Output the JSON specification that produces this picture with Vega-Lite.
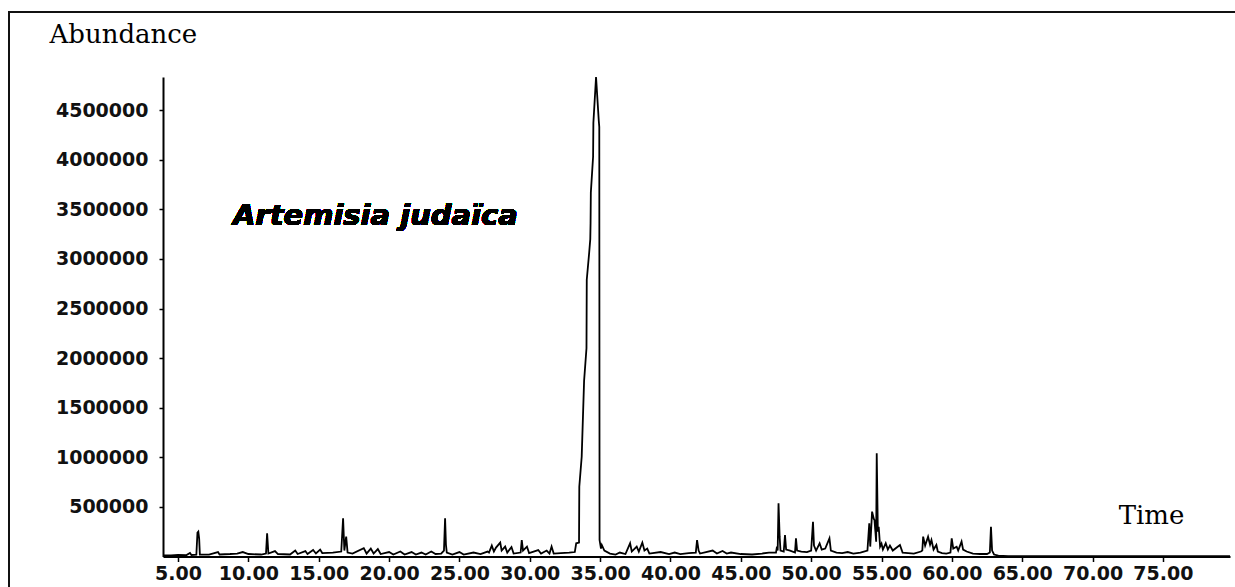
{
  "$schema": "https://vega.github.io/schema/vega-lite/v6.json",
  "autosize": {"type": "none"},
  "padding": {"left": 9, "top": 12, "right": 0, "bottom": 0},
  "width": 1228,
  "height": 577,
  "background": "white",
  "config": {"view": {"stroke": "#111", "strokeWidth": 2, "fill": null}},
  "data": {"values": [
    {"t": 3.93, "A": 10000}, {"t": 4.5, "A": 12000}, {"t": 5.0, "A": 15000}, {"t": 5.6, "A": 14000},
    {"t": 5.85, "A": 35000}, {"t": 5.95, "A": 15000}, {"t": 6.3, "A": 18000}, {"t": 6.38, "A": 240000},
    {"t": 6.44, "A": 250000}, {"t": 6.5, "A": 180000}, {"t": 6.55, "A": 20000}, {"t": 7.2, "A": 18000},
    {"t": 7.84, "A": 45000}, {"t": 7.95, "A": 20000}, {"t": 8.7, "A": 25000}, {"t": 9.2, "A": 30000},
    {"t": 9.6, "A": 45000}, {"t": 10.0, "A": 25000}, {"t": 10.9, "A": 20000}, {"t": 11.25, "A": 30000},
    {"t": 11.33, "A": 234000}, {"t": 11.42, "A": 30000}, {"t": 11.89, "A": 55000}, {"t": 12.1, "A": 25000},
    {"t": 12.96, "A": 20000}, {"t": 13.33, "A": 60000}, {"t": 13.5, "A": 25000}, {"t": 14.05, "A": 55000},
    {"t": 14.2, "A": 25000}, {"t": 14.6, "A": 65000}, {"t": 14.8, "A": 30000}, {"t": 15.1, "A": 70000},
    {"t": 15.25, "A": 35000}, {"t": 16.0, "A": 40000}, {"t": 16.6, "A": 50000}, {"t": 16.73, "A": 385000},
    {"t": 16.82, "A": 60000}, {"t": 16.95, "A": 200000}, {"t": 17.05, "A": 40000}, {"t": 17.4, "A": 30000},
    {"t": 18.2, "A": 85000}, {"t": 18.4, "A": 30000}, {"t": 18.7, "A": 80000}, {"t": 18.9, "A": 30000},
    {"t": 19.2, "A": 75000}, {"t": 19.4, "A": 25000}, {"t": 20.0, "A": 45000}, {"t": 20.3, "A": 20000},
    {"t": 20.8, "A": 50000}, {"t": 21.1, "A": 20000}, {"t": 21.6, "A": 45000}, {"t": 21.9, "A": 20000},
    {"t": 22.3, "A": 40000}, {"t": 22.6, "A": 20000}, {"t": 23.0, "A": 50000}, {"t": 23.3, "A": 25000},
    {"t": 23.7, "A": 30000}, {"t": 23.9, "A": 60000}, {"t": 23.98, "A": 385000}, {"t": 24.04, "A": 120000},
    {"t": 24.1, "A": 40000}, {"t": 24.5, "A": 20000}, {"t": 25.0, "A": 45000}, {"t": 25.3, "A": 20000},
    {"t": 26.0, "A": 40000}, {"t": 26.5, "A": 25000}, {"t": 27.0, "A": 50000}, {"t": 27.1, "A": 40000},
    {"t": 27.3, "A": 110000}, {"t": 27.45, "A": 50000}, {"t": 27.6, "A": 90000}, {"t": 27.9, "A": 140000},
    {"t": 28.0, "A": 60000}, {"t": 28.25, "A": 100000}, {"t": 28.4, "A": 40000}, {"t": 28.7, "A": 95000},
    {"t": 28.85, "A": 30000}, {"t": 29.35, "A": 40000}, {"t": 29.43, "A": 166000}, {"t": 29.52, "A": 60000},
    {"t": 29.8, "A": 100000}, {"t": 29.95, "A": 35000}, {"t": 30.6, "A": 65000}, {"t": 30.8, "A": 30000},
    {"t": 31.2, "A": 60000}, {"t": 31.4, "A": 30000}, {"t": 31.55, "A": 100000}, {"t": 31.7, "A": 30000},
    {"t": 32.2, "A": 35000}, {"t": 32.8, "A": 40000}, {"t": 33.2, "A": 45000}, {"t": 33.3, "A": 133000},
    {"t": 33.5, "A": 140000}, {"t": 33.52, "A": 704000}, {"t": 33.69, "A": 1006000}, {"t": 33.86, "A": 1770000},
    {"t": 34.03, "A": 2100000}, {"t": 34.05, "A": 2790000}, {"t": 34.22, "A": 3060000}, {"t": 34.3, "A": 3200000},
    {"t": 34.32, "A": 3360000}, {"t": 34.34, "A": 3670000}, {"t": 34.5, "A": 4030000}, {"t": 34.52, "A": 4370000},
    {"t": 34.71, "A": 4834000}, {"t": 34.9, "A": 4400000}, {"t": 34.94, "A": 4330000}, {"t": 34.96, "A": 166000},
    {"t": 35.06, "A": 80000}, {"t": 35.12, "A": 116000}, {"t": 35.3, "A": 60000}, {"t": 35.7, "A": 30000},
    {"t": 36.1, "A": 20000}, {"t": 36.4, "A": 40000}, {"t": 36.8, "A": 25000}, {"t": 37.13, "A": 133000},
    {"t": 37.25, "A": 50000}, {"t": 37.6, "A": 100000}, {"t": 37.75, "A": 50000}, {"t": 38.0, "A": 140000},
    {"t": 38.15, "A": 60000}, {"t": 38.35, "A": 80000}, {"t": 38.5, "A": 30000}, {"t": 39.3, "A": 45000},
    {"t": 39.9, "A": 25000}, {"t": 40.3, "A": 40000}, {"t": 40.7, "A": 25000}, {"t": 41.3, "A": 35000},
    {"t": 41.8, "A": 40000}, {"t": 41.89, "A": 166000}, {"t": 42.0, "A": 60000}, {"t": 42.1, "A": 30000},
    {"t": 43.0, "A": 60000}, {"t": 43.3, "A": 30000}, {"t": 43.7, "A": 55000}, {"t": 44.0, "A": 30000},
    {"t": 44.3, "A": 40000}, {"t": 45.0, "A": 25000}, {"t": 45.8, "A": 20000}, {"t": 46.5, "A": 30000},
    {"t": 47.0, "A": 40000}, {"t": 47.5, "A": 40000}, {"t": 47.57, "A": 100000}, {"t": 47.62, "A": 60000},
    {"t": 47.68, "A": 536000}, {"t": 47.76, "A": 200000}, {"t": 47.82, "A": 60000}, {"t": 48.05, "A": 50000},
    {"t": 48.14, "A": 217000}, {"t": 48.22, "A": 70000}, {"t": 48.5, "A": 60000}, {"t": 48.85, "A": 40000},
    {"t": 48.92, "A": 183000}, {"t": 49.0, "A": 60000}, {"t": 49.3, "A": 50000}, {"t": 49.7, "A": 45000},
    {"t": 50.0, "A": 60000}, {"t": 50.13, "A": 351000}, {"t": 50.2, "A": 110000}, {"t": 50.35, "A": 60000},
    {"t": 50.6, "A": 133000}, {"t": 50.75, "A": 70000}, {"t": 51.0, "A": 80000}, {"t": 51.3, "A": 183000},
    {"t": 51.4, "A": 60000}, {"t": 51.8, "A": 40000}, {"t": 52.2, "A": 35000}, {"t": 52.6, "A": 45000},
    {"t": 53.0, "A": 30000}, {"t": 53.5, "A": 40000}, {"t": 54.0, "A": 60000}, {"t": 54.13, "A": 335000},
    {"t": 54.2, "A": 100000}, {"t": 54.33, "A": 452000}, {"t": 54.45, "A": 380000}, {"t": 54.5, "A": 368000},
    {"t": 54.62, "A": 150000}, {"t": 54.66, "A": 1040000}, {"t": 54.74, "A": 250000}, {"t": 54.8, "A": 300000},
    {"t": 54.9, "A": 100000}, {"t": 55.0, "A": 130000}, {"t": 55.1, "A": 70000}, {"t": 55.3, "A": 133000},
    {"t": 55.45, "A": 70000}, {"t": 55.6, "A": 110000}, {"t": 55.8, "A": 60000}, {"t": 56.31, "A": 116000},
    {"t": 56.5, "A": 40000}, {"t": 56.9, "A": 35000}, {"t": 57.3, "A": 30000}, {"t": 57.8, "A": 50000},
    {"t": 57.9, "A": 60000}, {"t": 57.96, "A": 200000}, {"t": 58.1, "A": 110000}, {"t": 58.31, "A": 200000},
    {"t": 58.45, "A": 120000}, {"t": 58.55, "A": 166000}, {"t": 58.7, "A": 70000}, {"t": 58.9, "A": 116000},
    {"t": 59.0, "A": 50000}, {"t": 59.3, "A": 35000}, {"t": 59.6, "A": 30000}, {"t": 59.9, "A": 40000},
    {"t": 59.99, "A": 183000}, {"t": 60.1, "A": 80000}, {"t": 60.34, "A": 99000}, {"t": 60.45, "A": 60000},
    {"t": 60.69, "A": 150000}, {"t": 60.8, "A": 70000}, {"t": 61.05, "A": 50000}, {"t": 61.5, "A": 30000},
    {"t": 62.0, "A": 25000}, {"t": 62.5, "A": 25000}, {"t": 62.7, "A": 40000}, {"t": 62.78, "A": 300000},
    {"t": 62.86, "A": 60000}, {"t": 63.0, "A": 20000}, {"t": 63.3, "A": 8000}, {"t": 64.0, "A": 4000},
    {"t": 79.77, "A": 4000}
  ]},
  "layer": [
    {
      "mark": {"type": "line", "color": "#000", "strokeWidth": 1.8},
      "encoding": {
        "x": {
          "field": "t", "type": "quantitative",
          "scale": {"domain": [3.93, 79.77], "range": [154, 1221], "nice": false, "zero": false},
          "axis": {
            "values": [5, 10, 15, 20, 25, 30, 35, 40, 45, 50, 55, 60, 65, 70, 75],
            "format": ".2f",
            "offset": -32.5,
            "grid": false,
            "domainColor": "#000", "domainWidth": 2,
            "tickColor": "#000", "tickSize": 5, "tickWidth": 1.5,
            "labelFont": "DejaVu Sans", "labelFontSize": 19, "labelFontWeight": "bold", "labelColor": "#111",
            "labelPadding": 3, "labelOverlap": false, "labelFlush": false,
            "title": "Time", "titleFont": "DejaVu Serif", "titleFontSize": 26, "titleFontWeight": "normal", "titleColor": "#000",
            "titleX": 1142, "titleY": -33.5, "titleAlign": "center", "titleBaseline": "alphabetic"
          }
        },
        "y": {
          "field": "A", "type": "quantitative",
          "scale": {"domain": [0, 4834000], "range": [544.5, 65], "nice": false},
          "axis": {
            "values": [500000, 1000000, 1500000, 2000000, 2500000, 3000000, 3500000, 4000000, 4500000],
            "format": "d",
            "offset": -154,
            "grid": false,
            "domainColor": "#000", "domainWidth": 2,
            "tickColor": "#000", "tickSize": 4, "tickWidth": 1.5,
            "labelFont": "DejaVu Sans", "labelFontSize": 19, "labelFontWeight": "bold", "labelColor": "#111",
            "labelPadding": 11,
            "title": "Abundance", "titleFont": "DejaVu Serif", "titleFontSize": 26, "titleFontWeight": "normal", "titleColor": "#000",
            "titleAngle": 0, "titleX": -114, "titleY": 30, "titleAlign": "left", "titleBaseline": "alphabetic"
          }
        }
      }
    },
    {
      "mark": {"type": "text", "font": "DejaVu Sans", "fontSize": 29, "fontWeight": "bold", "fontStyle": "italic", "color": "#000", "align": "left", "baseline": "alphabetic"},
      "encoding": {
        "x": {"datum": 8.9},
        "y": {"datum": 3340000},
        "text": {"value": "Artemisia judaïca"}
      }
    }
  ]
}
